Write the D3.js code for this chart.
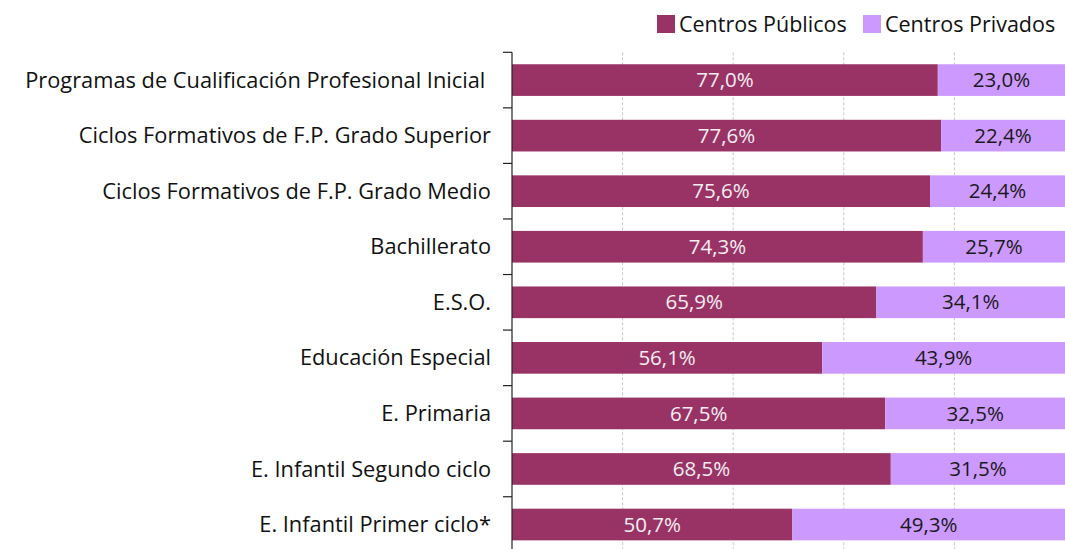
<!DOCTYPE html>
<html>
<head>
<meta charset="utf-8">
<script src="https://cdn.jsdelivr.net/npm/d3@7"></script>
<style>
    body { margin: 0; background: #fff; }
    svg { display: block; font-family: "Open Sans", sans-serif; }
</style>
</head>
<body>
<script>
// categories from top to bottom
const categories = [
    "Programas de Cualificación Profesional Inicial ",
    "Ciclos Formativos de F.P. Grado Superior",
    "Ciclos Formativos de F.P. Grado Medio",
    "Bachillerato",
    "E.S.O.",
    "Educación Especial",
    "E. Primaria",
    "E. Infantil Segundo ciclo",
    "E. Infantil Primer ciclo*"
];
const publicos = [77.0, 77.6, 75.6, 74.3, 65.9, 56.1, 67.5, 68.5, 50.7];
const privados = [23.0, 22.4, 24.4, 25.7, 34.1, 43.9, 32.5, 31.5, 49.3];
const seriesNames = ["Centros Públicos", "Centros Privados"];
const xTicks = [0, 20, 40, 60, 80, 100];

const colors = ["#993366", "#cc99ff"];
const textColors = ["#f4eef1", "#1a1a1a"];

const width = 1065, height = 549;
const margin = { top: 52.3, left: 512, right: 0 };

let svg = d3.select("body").append("svg")
    .attr("width", width)
    .attr("height", height);

let x = d3.scaleLinear()
    .domain([0, 100])
    .range([margin.left, width - margin.right]);

let y = d3.scaleBand()
    .domain(categories)
    .range([margin.top, margin.top + 500])
    .paddingInner(0.43)
    .paddingOuter(0.215);

// stacked data
let table = categories.map((c, i) => ({ cat: c, pub: publicos[i], priv: privados[i] }));
let stack = d3.stack().keys(["pub", "priv"])(table);

// vertical dashed grid lines
svg.append("g")
    .selectAll("line")
    .data(xTicks.slice(1, -1))
    .join("line")
    .attr("x1", d => x(d)).attr("x2", d => x(d))
    .attr("y1", margin.top).attr("y2", height)
    .attr("stroke", "#c8c8c8")
    .attr("stroke-width", 1)
    .attr("stroke-dasharray", "3,2");

// bars
stack.forEach((layer, k) => {
    svg.append("g")
        .attr("fill", colors[k])
        .selectAll("rect")
        .data(layer)
        .join("rect")
        .attr("x", d => x(d[0]))
        .attr("y", d => y(d.data.cat))
        .attr("width", d => x(d[1]) - x(d[0]))
        .attr("height", y.bandwidth());

    svg.append("g")
        .selectAll("text")
        .data(layer)
        .join("text")
        .attr("x", d => (x(d[0]) + x(d[1])) / 2)
        .attr("y", d => y(d.data.cat) + y.bandwidth() / 2)
        .attr("dy", "0.35em")
        .attr("text-anchor", "middle")
        .attr("font-size", 20.5)
        .attr("fill", textColors[k])
        .text(d => (d[1] - d[0]).toFixed(1).replace(".", ",") + "%");
});

// left axis: line plus ticks between categories
let axis = svg.append("g");
axis.append("line")
    .attr("x1", x(0)).attr("x2", x(0))
    .attr("y1", margin.top).attr("y2", height)
    .attr("stroke", "#222").attr("stroke-width", 1.2);

let boundaries = categories.map(c => y(c) - y.step() * y.paddingInner() / 2);
axis.selectAll("line.tick")
    .data(boundaries)
    .join("line")
    .attr("class", "tick")
    .attr("x1", x(0) - 9).attr("x2", x(0))
    .attr("y1", d => d).attr("y2", d => d)
    .attr("stroke", "#222").attr("stroke-width", 1.2);

axis.selectAll("text")
    .data(categories)
    .join("text")
    .attr("x", x(0) - 21)
    .attr("y", d => y(d) + y.bandwidth() / 2)
    .attr("dy", "0.35em")
    .attr("text-anchor", "end")
    .attr("font-size", 21.8)
    .attr("fill", "#111")
    .style("white-space", "pre")
    .text(d => d);

// legend
let legend = svg.append("g");
let lx = [657, 863];
seriesNames.forEach((name, k) => {
    legend.append("rect")
        .attr("x", lx[k]).attr("y", 15)
        .attr("width", 18).attr("height", 18)
        .attr("fill", colors[k]);
    legend.append("text")
        .attr("x", lx[k] + 22).attr("y", 24)
        .attr("dy", "0.35em")
        .attr("font-size", 21.5)
        .attr("fill", "#111")
        .text(name);
});
</script>
</body>
</html>
